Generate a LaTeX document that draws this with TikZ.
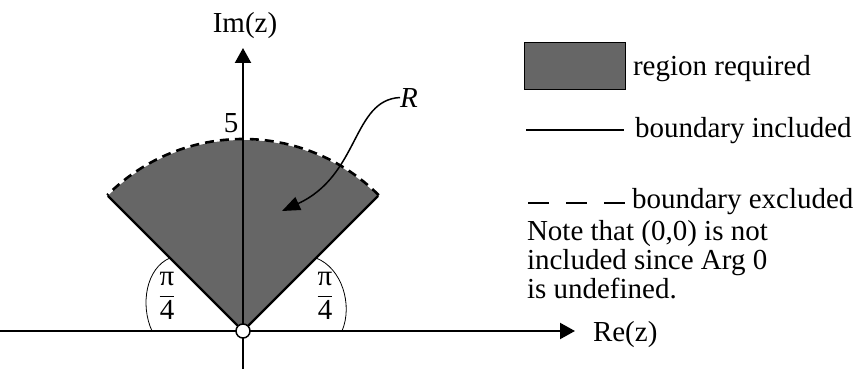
\documentclass[tikz,border=0pt]{standalone}
\usepackage{fontspec}
\setmainfont{Liberation Serif}
\usetikzlibrary{arrows.meta}
\definecolor{regiongray}{RGB}{102,102,102}
\begin{document}
\begin{tikzpicture}[x=1pt,y=-1pt,
  font=\fontsize{29}{29}\selectfont,
  axisline/.style={line width=2.2pt,-{Triangle[length=15pt,width=16pt]}},
  edgeline/.style={line width=2.2pt},
  bdash/.style={line width=2.6pt,dash pattern=on 9pt off 6pt},
  thinarc/.style={line width=0.8pt},
  lbl/.style={inner sep=0pt,outer sep=0pt}]
\useasboundingbox (0,0) rectangle (862,369);
\coordinate (O) at (243,331);
% sector
\fill[regiongray] (O) -- ++(-45:191) arc[start angle=-45,end angle=-135,radius=191] -- cycle;
\path (O) ++(-45:191) coordinate (RC);
\path (O) ++(-135:191) coordinate (LC);
\draw[edgeline] (LC) -- (O) -- (RC);
\draw[bdash] (O) ++(-45:192) arc[start angle=-45,end angle=-135,radius=192];
% axes
\coordinate (xl) at (0,331);
\coordinate (xr) at (575,331);
\coordinate (yb) at (243,369);
\coordinate (yt) at (243,48);
\draw[axisline] (xl) -- (xr);
\draw[axisline] (yb) -- (yt);
\node[circle,draw,fill=white,line width=1.5pt,minimum size=14pt,inner sep=0pt] (orig) at (O) {};
% angle arcs
\draw[thinarc] (152,331) .. controls (140,305) and (146,268) .. (170,258);
\draw[thinarc] (342,331) .. controls (353,305) and (342,268) .. (316,258);
\node[lbl,anchor=base] (fracL) at (167,302) {$\displaystyle\frac{\mbox{π}}{\mbox{4}}$};
\node[lbl,anchor=base] (fracR) at (325,302) {$\displaystyle\frac{\mbox{π}}{\mbox{4}}$};
% labels
\node[lbl,anchor=base] (imlab) at (245,33) {Im(z)};
\node[lbl,anchor=base] (five) at (231,132) {5};
\node[lbl,anchor=base west] (relab) at (593,341) {Re(z)};
\node[lbl,anchor=base west] (Rlab) at (400,107) {\textit{R}};
\coordinate (Rtip) at (282,211);
\draw[line width=1.5pt,-{Triangle[length=18pt,width=14pt]}] (Rlab.west) .. controls (352,100) and (360,175) .. (Rtip);
% legend
\node[draw,fill=regiongray,line width=0.8pt,minimum width=101pt,minimum height=47pt,inner sep=0pt] (legbox) at (574.5,65.5) {};
\node[lbl,anchor=base west] (legreg) at (633,75) {region required};
\coordinate (lsA) at (526,130);
\coordinate (lsB) at (624,130);
\draw[edgeline] (lsA) -- (lsB);
\node[lbl,anchor=base west] (leginc) at (635,137) {boundary included};
\coordinate (ldA) at (528,203);
\coordinate (ldB) at (625,203);
\draw[line width=2.6pt,dash pattern=on 21pt off 17pt] (ldA) -- (ldB);
\node[lbl,anchor=base west] (legexc) at (632,208) {boundary excluded};
\node[lbl,anchor=base west] (note1) at (527,240) {Note that (0,0) is not};
\node[lbl,anchor=base west] (note2) at (527,269) {included since Arg 0};
\node[lbl,anchor=base west] (note3) at (527,298) {is undefined.};
\end{tikzpicture}
\end{document}
